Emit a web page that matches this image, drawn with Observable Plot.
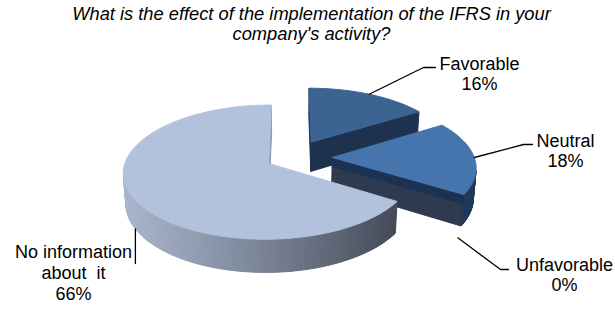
<!DOCTYPE html>
<html><head><meta charset="utf-8">
<script src="https://cdn.jsdelivr.net/npm/d3@7"></script>
<script src="https://cdn.jsdelivr.net/npm/@observablehq/plot@0.6"></script>
<style>html,body{margin:0;padding:0;background:#fff}</style>
</head><body><div id="chart"></div>
<script>
// ---- data ----
const categories = ["Favorable", "Neutral", "Unfavorable", "No information\nabout  it"];
const values = [16, 18, 0, 66];
const title = "What is the effect of the implementation of the IFRS in your\ncompany's activity?";

// ---- layout / styling ----
const W = 615, H = 311;
const cx = 292, cy = 157, S = 142, D = 7, alpha = 27 * Math.PI / 180, thick = 0.24;
const explode = [0.28, 0.28, 0.28, 0.19];
const topColors = ["#3b6493", "#4674ad", "#4674ad", "#b3c2dc"];
const arcColors = ["#1e3250", "#1f395b", "#1f395b", null];
const radialColors = ["#1e3250", "#2e3a50", "#2e3a50", "#8f9bb3"];
const bigGradient = d3.interpolateRgbBasis(["#aab6cd", "#7d869a", "#424855"]);
const labelLayout = [
  {rim: "top", elbow: [423, 67], end: [435, 67], text: [479, 73]},
  {rim: "top", elbow: [523, 144], end: [532, 144], text: [565, 150]},
  {rim: "bottom", elbow: [500, 269], end: [508, 269], text: [564, 274]},
  {rim: "bottom", elbow: null, end: null, text: [73, 272], vertical: 263}
];

const sa = Math.sin(alpha), ca = Math.cos(alpha);
const cam = [0, -D * ca, D * sa];
function proj(u, v, z) {
  const depth = D + v * ca - z * sa;
  return [cx + S * D * u / depth, cy - S * D * (v * sa + z * ca) / depth];
}
function visible(n, p) {
  return n[0] * (cam[0] - p[0]) + n[1] * (cam[1] - p[1]) + n[2] * (cam[2] - p[2]) > 0;
}

const arcs = d3.pie().sort(null).startAngle(0).endAngle(2 * Math.PI)(values);
const slices = arcs.map((a, i) => {
  const m = (a.startAngle + a.endAngle) / 2;
  return {i, a0: a.startAngle, a1: a.endAngle, m,
    ou: explode[i] * Math.sin(m), ov: explode[i] * Math.cos(m)};
});

const polys = [];
let pid = 0;
function addPoly(pts, color) {
  const id = pid++;
  pts.concat([pts[0]]).forEach(([x, y]) => polys.push({id, x, y, color}));
}

// painter's order: back slices first
const order = slices.filter(s => s.a1 - s.a0 > 1e-6).sort((a, b) => b.ov - a.ov);
for (const s of order) {
  const {ou, ov, a0, a1, i} = s;
  const n = Math.max(2, Math.ceil((a1 - a0) / (Math.PI / 180)));
  const th = d3.range(n + 1).map(k => a0 + (a1 - a0) * k / n);
  const rim = (t, z) => proj(ou + Math.sin(t), ov + Math.cos(t), z);
  // outer strips
  for (let k = 0; k < n; k++) {
    const tm = (th[k] + th[k + 1]) / 2;
    const nrm = [Math.sin(tm), Math.cos(tm), 0];
    const p = [ou + Math.sin(tm), ov + Math.cos(tm), -thick / 2];
    if (!visible(nrm, p)) continue;
    const q = [rim(th[k], 0), rim(th[k + 1], 0), rim(th[k + 1], -thick), rim(th[k], -thick)];
    let col = arcColors[i];
    if (!col) {
      const xm = (q[0][0] + q[1][0]) / 2;
      col = bigGradient(Math.max(0, Math.min(1, (xm - 121) / (400 - 121))));
    }
    addPoly(q, col);
  }
  // radial faces
  const faces = [
    {t: a0, nrm: [-Math.cos(a0), Math.sin(a0), 0]},
    {t: a1, nrm: [Math.cos(a1), -Math.sin(a1), 0]}
  ];
  for (const f of faces) {
    const p = [ou + 0.5 * Math.sin(f.t), ov + 0.5 * Math.cos(f.t), -thick / 2];
    if (!visible(f.nrm, p)) continue;
    const c = z => proj(ou, ov, z);
    if (i === 1) {
      const zb = -thick * 0.33;
      addPoly([c(0), rim(f.t, 0), rim(f.t, zb), c(zb)], "#1d3152");
      addPoly([c(zb), rim(f.t, zb), rim(f.t, -thick), c(-thick)], radialColors[i]);
    } else {
      addPoly([c(0), rim(f.t, 0), rim(f.t, -thick), c(-thick)], radialColors[i]);
    }
  }
  // top face
  addPoly([proj(ou, ov, 0)].concat(th.map(t => rim(t, 0))), topColors[i]);
}

// labels & leaders
const leaders = [];
const labels = [];
slices.forEach((s, i) => {
  const L = labelLayout[i];
  const z = L.rim === "top" ? 0 : -thick;
  const start = proj(s.ou + Math.sin(s.m), s.ov + Math.cos(s.m), z);
  const pts = L.vertical != null ? [start, [start[0], L.vertical]] : [start, L.elbow, L.end];
  pts.forEach(([x, y]) => leaders.push({k: i, x, y}));
  labels.push({x: L.text[0], y: L.text[1], text: `${categories[i]}\n${values[i]}%`});
});

const chart = Plot.plot({
  width: W, height: H, margin: 0,
  x: {domain: [0, W], range: [0, W], axis: null},
  y: {domain: [0, H], range: [0, H], axis: null},
  color: {type: "identity"},
  style: {background: "#fff"},
  marks: [
    Plot.line(polys, {x: "x", y: "y", z: "id", fill: "color", stroke: "color", strokeWidth: 1, curve: "linear"}),
    Plot.line(leaders, {x: "x", y: "y", z: "k", stroke: "#000", strokeWidth: 1.3, curve: "linear"}),
    Plot.text(labels, {x: "x", y: "y", text: "text", fontSize: 18, fontFamily: "Liberation Sans, Arial, sans-serif",
      lineHeight: 1.15, textAnchor: "middle", lineAnchor: "middle", fill: "#000"}),
    Plot.text([title], {x: () => 311, y: () => 23, text: d => d, fontSize: 18.3, fontStyle: "italic",
      fontFamily: "Liberation Sans, Arial, sans-serif", lineHeight: 1.1, textAnchor: "middle", lineAnchor: "middle", fill: "#000"})
  ]
});
document.getElementById("chart").appendChild(chart);
</script>
</body></html>
